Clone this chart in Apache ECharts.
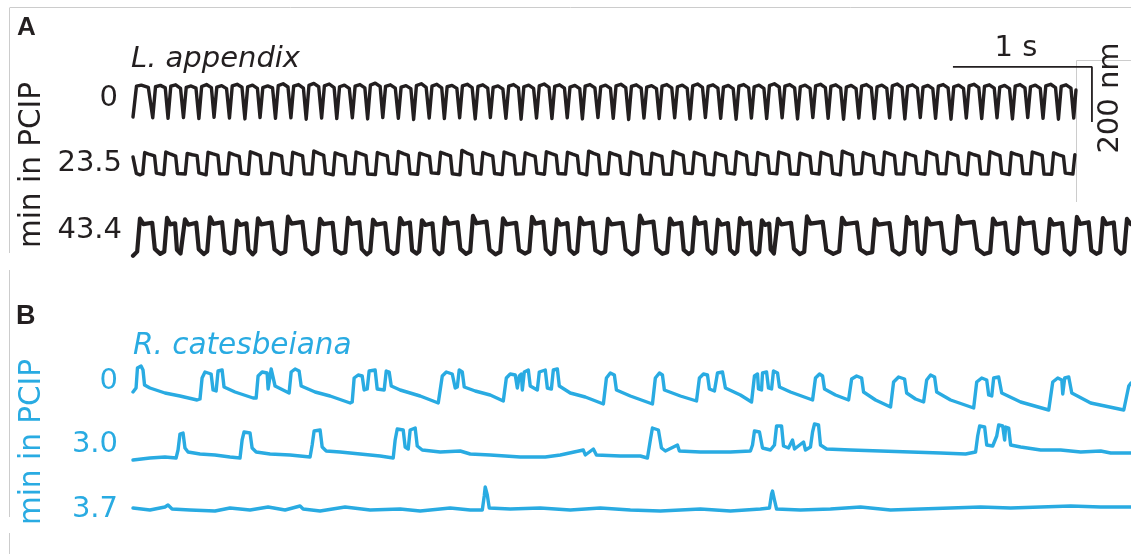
<!DOCTYPE html>
<html><head><meta charset="utf-8">
<script src="https://cdn.jsdelivr.net/npm/echarts/dist/echarts.min.js"></script>
<style>html,body{margin:0;padding:0;background:#fff}#c{width:1131px;height:554px}</style>
</head><body><div id="c"></div>
<script>
// time in ms, displacement in nm
const traceA0 = [[0,0],[4,-6],[25,112],[60,116],[110,108],
[142,-3],[162,110],[197,115],[232,106],[252,-5],[272,112],[307,117],[342,104],[363,-2],[383,108],[418,113],[453,105],
[474,-6],[494,111],[529,118],[564,107],[583,-1],[603,109],[638,114],[673,103],[694,-4],[714,113],[749,119],[784,108],
[805,-7],[825,110],[860,116],[895,104],[914,-2],[934,107],[969,113],[1004,106],[1025,-5],[1045,114],[1080,121],[1115,109],
[1136,-3],[1156,112],[1191,118],[1226,105],[1246,-8],[1266,115],[1301,122],[1336,110],[1357,-4],[1377,113],[1412,120],[1447,107],
[1466,-6],[1486,110],[1521,116],[1556,104],[1578,-3],[1598,112],[1633,118],[1668,106],[1688,-7],[1708,116],[1743,123],[1778,111],
[1797,-2],[1817,111],[1852,117],[1887,105],[1909,-5],[1929,109],[1964,114],[1999,103],[2019,-9],[2039,114],[2074,121],[2109,108],
[2131,-4],[2151,112],[2186,119],[2221,106],[2240,-6],[2260,110],[2295,115],[2330,104],[2350,-3],[2370,113],[2405,119],[2440,107],
[2462,-7],[2482,111],[2517,117],[2552,105],[2571,-2],[2591,108],[2626,113],[2661,102],[2683,-5],[2703,112],[2738,118],[2773,106],
[2792,-8],[2812,110],[2847,116],[2882,104],[2903,-4],[2923,113],[2958,120],[2993,108],[3014,-6],[3034,111],[3069,117],[3104,105],
[3124,-3],[3144,109],[3179,115],[3214,103],[3233,-7],[3253,112],[3288,118],[3323,106],[3345,-2],[3365,110],[3400,116],[3435,104],
[3455,-5],[3475,113],[3510,119],[3545,107],[3566,-9],[3586,111],[3621,117],[3656,105],[3676,-4],[3696,109],[3731,114],[3766,103],
[3786,-6],[3806,112],[3841,118],[3876,106],[3897,-3],[3917,110],[3952,116],[3987,104],[4007,-7],[4027,113],[4062,120],[4097,108],
[4118,-2],[4138,111],[4173,117],[4208,105],[4228,-5],[4248,109],[4283,115],[4318,103],[4339,-8],[4359,112],[4394,118],[4429,106],
[4449,-4],[4469,110],[4504,116],[4539,104],[4559,-6],[4579,114],[4614,121],[4649,109],[4670,-3],[4690,112],[4725,118],[4760,106],
[4781,-7],[4801,110],[4836,116],[4871,104],[4891,-2],[4911,113],[4946,119],[4981,107],[5001,-5],[5021,111],[5056,117],[5091,105],
[5112,-8],[5132,109],[5167,115],[5202,103],[5222,-4],[5242,112],[5277,118],[5312,106],[5333,-6],[5353,110],[5388,116],[5423,104],
[5443,-3],[5463,113],[5498,120],[5533,108],[5553,-7],[5573,111],[5608,117],[5643,105],[5664,-2],[5684,109],[5719,115],[5754,103],
[5774,-5],[5794,112],[5829,118],[5864,106],[5885,-8],[5905,110],[5940,116],[5975,104],[5995,-4],[6015,113],[6050,119],[6085,107],
[6106,-6],[6126,111],[6161,117],[6196,105],[6216,-3],[6236,109],[6271,115],[6306,103],[6327,-7],[6347,112],[6382,118],[6417,106],
[6437,-2],[6457,110],[6492,116],[6527,104],[6547,-5],[6567,113],[6602,119],[6637,107],[6658,-8],[6678,111],[6713,117],[6748,105],
[6768,-4],[6784,98]];

const traceA1 = [[0,62],[10,66],[24,2],[50,-3],
[70,1],[84,78],[120,71],[155,66],[168,3],[222,-2],[236,80],[272,72],[307,65],[320,2],[376,0],[390,75],[426,70],[461,67],[474,4],
[526,-3],[540,79],[576,73],[611,68],[624,1],[679,1],[693,77],[729,70],[764,64],[777,3],[830,-1],[844,81],[880,74],[915,67],[928,2],
[984,2],[998,76],[1034,71],[1069,65],[1082,4],[1135,-2],[1149,79],[1185,72],[1220,66],[1233,1],[1287,0],[1301,84],[1337,75],[1372,68],[1385,3],
[1440,-3],[1454,77],[1490,70],[1525,65],[1538,2],[1591,1],[1605,80],[1641,73],[1676,67],[1689,0],[1744,-2],[1758,78],[1794,71],[1829,66],[1842,3],
[1895,0],[1909,82],[1945,74],[1980,68],[1993,2],[2048,-1],[2062,76],[2098,70],[2133,64],[2146,4],[2199,2],[2213,79],[2249,72],[2284,66],[2297,1],
[2352,-3],[2366,86],[2402,76],[2437,69],[2450,3],[2503,0],[2517,78],[2553,71],[2588,65],[2601,2],[2656,-2],[2670,80],[2706,73],[2741,67],[2754,0],
[2808,1],[2822,77],[2858,70],[2893,64],[2906,3],[2960,-1],[2974,81],[3010,74],[3045,68],[3058,2],[3112,0],[3126,79],[3162,72],[3197,66],[3210,4],
[3264,-3],[3278,83],[3314,75],[3349,69],[3362,1],[3416,1],[3430,78],[3466,71],[3501,65],[3514,3],[3569,-2],[3583,80],[3619,73],[3654,67],[3667,2],
[3720,0],[3734,76],[3770,70],[3805,64],[3818,0],[3873,-1],[3887,82],[3923,74],[3958,68],[3971,3],[4024,2],[4038,79],[4074,72],[4109,66],[4122,1],
[4177,-3],[4191,77],[4227,70],[4262,65],[4275,4],[4328,0],[4342,81],[4378,73],[4413,67],[4426,2],[4481,-2],[4495,78],[4531,71],[4566,66],[4579,3],
[4632,1],[4646,80],[4682,74],[4717,68],[4730,1],[4785,-1],[4799,76],[4835,70],[4870,64],[4883,3],[4936,0],[4950,79],[4986,72],[5021,66],[5034,2],
[5089,-3],[5103,83],[5139,75],[5174,69],[5187,0],[5240,2],[5254,78],[5290,71],[5325,65],[5338,4],[5393,-2],[5407,80],[5443,73],[5478,67],[5491,1],
[5544,0],[5558,77],[5594,70],[5629,64],[5642,3],[5697,-1],[5711,82],[5747,74],[5782,68],[5795,2],[5848,1],[5862,79],[5898,72],[5933,66],[5946,4],
[6001,-3],[6015,77],[6051,70],[6086,65],[6099,1],[6152,0],[6166,81],[6202,73],[6237,67],[6250,3],[6305,-2],[6319,78],[6355,71],[6390,66],[6403,2],
[6456,1],[6470,80],[6506,74],[6541,68],[6554,0],[6609,-1],[6623,77],[6659,70],[6694,64],[6707,3],[6762,0],[6776,70]];

const traceA2 = [[0,-10],[30,5],[50,125],[75,105],[138,110],[157,15],[196,-3],
[225,5],[245,128],[268,104],[303,108],[316,12],[342,-2],[354,4],[374,122],[398,103],[455,110],[473,14],[509,-4],
[534,6],[554,130],[578,106],[641,112],[661,10],[700,-2],[728,3],[748,118],[772,102],[816,108],[831,12],[861,-5],
[879,5],[899,126],[923,104],[996,111],[1018,13],[1061,-3],[1095,4],[1115,132],[1140,107],[1219,113],[1242,15],[1288,-4],
[1325,6],[1345,124],[1370,105],[1436,110],[1456,11],[1497,-2],[1527,3],[1547,128],[1571,106],[1628,112],[1646,14],[1682,-5],
[1707,5],[1727,121],[1751,103],[1814,109],[1834,12],[1873,-3],[1901,4],[1921,127],[1945,105],[1992,111],[2008,10],[2040,-2],
[2059,6],[2079,119],[2103,102],[2154,108],[2170,13],[2203,-4],[2225,3],[2245,129],[2270,106],[2335,112],[2355,15],[2396,-3],
[2426,5],[2446,135],[2471,108],[2543,114],[2565,12],[2608,-5],[2642,4],[2662,126],[2687,104],[2756,110],[2777,11],[2819,-2],
[2851,6],[2871,131],[2895,107],[2952,113],[2970,14],[3005,-4],[3030,3],[3050,122],[3074,103],[3125,109],[3141,12],[3174,-3],
[3196,5],[3216,128],[3241,105],[3306,111],[3326,10],[3367,-2],[3397,4],[3417,124],[3442,104],[3521,110],[3544,13],[3590,-5],
[3627,6],[3647,136],[3672,108],[3744,114],[3766,15],[3809,-3],[3843,3],[3863,125],[3887,104],[3944,110],[3962,11],[3998,-4],
[4023,5],[4043,130],[4067,106],[4117,112],[4134,14],[4167,-2],[4188,4],[4208,121],[4232,103],[4280,109],[4296,12],[4327,-3],
[4347,6],[4367,127],[4391,105],[4438,111],[4454,10],[4485,-5],[4505,3],[4525,119],[4547,102],[4577,107],[4588,13],[4611,-2],
[4620,5],[4640,124],[4665,104],[4734,110],[4755,15],[4797,-4],[4829,4],[4849,133],[4874,107],[4962,113],[4988,11],[5038,-3],
[5081,6],[5101,128],[5126,105],[5208,111],[5231,14],[5278,-2],[5318,3],[5338,122],[5363,103],[5442,109],[5465,12],[5511,-5],
[5548,5],[5568,131],[5592,106],[5633,112],[5647,10],[5676,-3],[5692,4],[5712,126],[5737,104],[5812,110],[5835,13],[5879,-2],
[5915,6],[5935,134],[5960,107],[6048,113],[6074,15],[6124,-4],[6167,3],[6187,125],[6211,104],[6274,110],[6294,11],[6333,-3],
[6361,5],[6381,129],[6406,106],[6478,112],[6500,14],[6543,-2],[6577,4],[6597,123],[6621,103],[6684,109],[6704,12],[6743,-5],
[6771,6],[6791,131],[6815,106],[6875,112],[6894,10],[6931,-3],[6958,3],[6978,127],[7002,105],[7056,111],[7073,13],[7106,-2],
[7131,5],[7151,124],[7178,105]];

const traceB0 = [[0,72],[22,88],[32,168],[58,176],[72,160],[83,100],[122,88],[230,68],[338,56],[461,40],
[482,44],[497,128],[518,152],[562,144],[576,80],[598,76],[612,156],[641,160],[655,92],[734,72],[864,48],
[886,48],[900,136],[929,152],[965,148],[972,84],[986,88],[994,164],[1008,168],[1022,96],[1094,76],
[1123,68],[1138,152],[1166,164],[1195,156],[1210,96],[1310,72],[1418,56],[1562,28],
[1577,32],[1591,128],[1620,140],[1649,136],[1663,80],[1685,84],[1699,156],[1742,160],[1757,84],[1807,80],[1822,156],[1843,152],[1858,96],[1922,80],[2066,56],[2196,28],
[2210,32],[2225,136],[2254,152],[2297,144],[2318,88],[2333,92],[2347,160],[2369,152],[2383,92],[2462,76],[2570,60],[2664,36],
[2671,32],[2686,128],[2714,144],[2750,140],[2765,88],[2779,136],[2794,144],[2801,80],[2815,152],[2844,160],[2858,96],[2909,80],[2923,152],[2966,160],[2981,88],[3010,84],[3024,160],[3053,164],[3067,96],[3146,68],[3254,52],[3384,24],
[3391,24],[3406,128],[3434,148],[3463,140],[3478,80],[3578,56],[3737,24],
[3744,24],[3758,128],[3787,148],[3809,140],[3823,80],[3938,56],[4054,36],
[4061,36],[4075,128],[4104,144],[4133,140],[4147,84],[4183,76],[4205,148],[4241,152],[4262,88],[4370,60],[4450,32],
[4457,32],[4471,136],[4493,144],[4500,84],[4522,80],[4529,148],[4558,152],[4572,88],[4594,84],[4608,156],[4637,148],[4651,92],[4730,72],[4889,40],
[4896,40],[4910,128],[4939,144],[4961,136],[4975,84],[5054,60],[5148,40],
[5155,40],[5170,124],[5206,136],[5242,128],[5256,72],[5342,40],[5450,12],
[5458,12],[5472,112],[5508,132],[5551,124],[5566,68],[5630,44],[5688,32],
[5695,32],[5710,120],[5738,140],[5767,132],[5782,72],[5882,40],[6048,8],
[6055,8],[6070,112],[6106,128],[6142,120],[6156,60],[6178,56],[6192,128],[6228,132],[6250,68],[6386,32],[6588,0],
[6595,0],[6617,112],[6653,128],[6682,120],[6689,64],[6703,128],[6732,132],[6754,68],[6890,28],[7128,0],
[7142,4],[7164,96],[7180,108]];

const traceB1 = [[0,0],[122,8],[230,12],[310,8],[324,40],[338,104],[360,108],[374,48],[396,32],[482,24],[590,20],[698,12],
[770,8],[785,80],[799,112],[842,108],[857,48],[886,32],[986,24],[1130,20],[1274,12],[1289,60],[1303,116],[1346,120],[1361,52],[1390,36],
[1490,32],[1634,24],[1778,16],[1872,8],[1886,80],[1901,124],[1944,120],[1958,52],[1980,44],[1994,120],[2030,128],[2045,56],[2081,40],
[2210,32],[2354,36],[2426,24],[2570,20],[2786,12],[2966,12],[3074,20],[3240,40],[3254,20],[3312,44],[3334,20],[3506,16],[3650,16],
[3701,8],[3722,80],[3737,128],[3780,120],[3802,48],[3830,36],[3917,60],[3931,36],[4082,32],[4298,32],[4442,36],[4457,60],[4471,116],
[4507,112],[4529,48],[4586,40],[4615,60],[4630,136],[4666,136],[4680,56],[4716,48],[4745,80],[4759,44],[4824,72],[4838,40],[4874,52],
[4889,112],[4903,144],[4932,140],[4946,60],[4990,44],[5162,40],[5378,36],[5594,32],[5810,28],[5990,24],[6062,32],[6077,96],[6091,136],
[6127,132],[6142,60],[6185,56],[6214,96],[6228,140],[6257,136],[6271,80],[6278,132],[6300,128],[6314,60],[6386,52],[6530,40],[6674,40],
[6818,32],[6962,36],[7034,28],[7180,28]];

const traceB2 = [[0,16],[122,8],[230,20],[252,28],[281,12],[410,8],[590,4],[698,16],[842,8],[972,20],[1094,8],[1202,24],[1224,12],
[1346,4],[1526,20],[1706,8],[1922,12],[2066,4],[2282,16],[2426,8],[2513,8],[2527,64],[2534,100],[2549,68],[2563,16],[2714,12],
[2930,16],[3146,8],[3362,16],[3578,8],[3794,4],[4082,12],[4298,4],[4514,12],[4579,16],[4594,72],[4601,84],[4615,48],[4630,12],
[4802,8],[5018,12],[5234,20],[5450,8],[5666,12],[5882,16],[6098,20],[6314,16],[6530,20],[6746,24],[6962,20],[7180,20]];

const rowLabelsA = ['0', '23.5', '43.4'];
const rowLabelsB = ['0', '3.0', '3.7'];
const scaleBarTime = [5899, 6899];   // 1 s
const scaleBarDisp = [182, -18];     // 200 nm

const BLACK = '#231f20', BLUE = '#29abe2', GREY = '#cccccc';
const FONT = '"DejaVu Sans", "Liberation Sans", Arial, sans-serif';
const FONT_BOLD = '"Liberation Sans", Arial, Helvetica, sans-serif';

// layout: [top, height, yMin, yMax]
const gridsLayout = [
  [62, 66, -40, 200],
  [130, 55, -40, 160],
  [209, 55, -40, 160],
  [360, 55, -20, 200],
  [410, 55, -20, 200],
  [462, 55, -20, 200]
];
const traces = [traceA0, traceA1, traceA2, traceB0, traceB1, traceB2];
const colors = [BLACK, BLACK, BLACK, BLUE, BLUE, BLUE];
const widths = [3.4, 3.4, 4.2, 3.4, 3.4, 3.4];

const grid = [], xAxis = [], yAxis = [], series = [];
gridsLayout.forEach((g, i) => {
  grid.push({left: 133, width: 998, top: g[0], height: g[1], containLabel: false});
  xAxis.push({type: 'value', gridIndex: i, min: 0, max: 7180, show: false});
  yAxis.push({type: 'value', gridIndex: i, min: g[2], max: g[3], show: false});
  series.push({type: 'line', xAxisIndex: i, yAxisIndex: i, data: traces[i], showSymbol: false, symbol: 'none',
    clip: false, silent: true, lineStyle: {color: colors[i], width: widths[i], join: 'round', cap: 'round'}});
});
series.push({type: 'line', xAxisIndex: 0, yAxisIndex: 0, showSymbol: false, symbol: 'none', clip: false, silent: true,
  data: [[scaleBarTime[0], scaleBarDisp[0]], [scaleBarTime[1], scaleBarDisp[0]], [scaleBarTime[1], scaleBarDisp[1]]],
  lineStyle: {color: BLACK, width: 1.8}});

function txt(text, x, y, size, color, opts) {
  opts = opts || {};
  return {type: 'text', x: x, y: y, rotation: opts.rot || 0, silent: true,
    style: {text: text, fill: color, fontSize: size, fontFamily: opts.bold ? FONT_BOLD : FONT, fontWeight: opts.bold ? 'bold' : 'normal',
      fontStyle: opts.italic ? 'italic' : 'normal', align: opts.align || 'left', verticalAlign: 'middle',
      textAlign: opts.align || 'left', textVerticalAlign: 'middle'}};
}
function ln(x1, y1, x2, y2, color, w) {
  return {type: 'line', silent: true, shape: {x1: x1, y1: y1, x2: x2, y2: y2}, style: {stroke: color, lineWidth: w}};
}

const graphic = [
  ln(10, 7.5, 1131, 7.5, GREY, 1),
  ln(9.5, 7.5, 9.5, 253, GREY, 1),
  ln(9.5, 270, 9.5, 517, GREY, 1),
  ln(9.5, 533, 9.5, 554, GREY, 1),
  ln(1076.5, 60.5, 1131, 60.5, GREY, 1),
  ln(1076.5, 60.5, 1076.5, 202, GREY, 1),
  txt('A', 17, 28, 26, BLACK, {bold: true}),
  txt('L. appendix', 131, 59, 29, BLACK, {italic: true}),
  txt(rowLabelsA[0], 118, 98, 29, BLACK, {align: 'right'}),
  txt(rowLabelsA[1], 122, 163, 29, BLACK, {align: 'right'}),
  txt(rowLabelsA[2], 122, 230, 29, BLACK, {align: 'right'}),
  txt('min in PCIP', 32, 165, 29.5, BLACK, {align: 'center', rot: Math.PI / 2}),
  txt('1 s', 1016, 48, 29, BLACK, {align: 'center'}),
  txt('200 nm', 1110, 98, 29, BLACK, {align: 'center', rot: Math.PI / 2}),
  txt('B', 16, 317, 27, BLACK, {bold: true}),
  txt('R. catesbeiana', 133, 346, 29.5, BLUE, {italic: true}),
  txt(rowLabelsB[0], 118, 381, 29, BLUE, {align: 'right'}),
  txt(rowLabelsB[1], 118, 444, 29, BLUE, {align: 'right'}),
  txt(rowLabelsB[2], 118, 509, 29, BLUE, {align: 'right'}),
  txt('min in PCIP', 32, 442, 29.5, BLUE, {align: 'center', rot: Math.PI / 2})
];

const chart = echarts.init(document.getElementById('c'), null, {renderer: 'canvas'});
chart.setOption({animation: false, backgroundColor: '#fff', grid: grid, xAxis: xAxis, yAxis: yAxis, series: series, graphic: graphic});
</script></body></html>
